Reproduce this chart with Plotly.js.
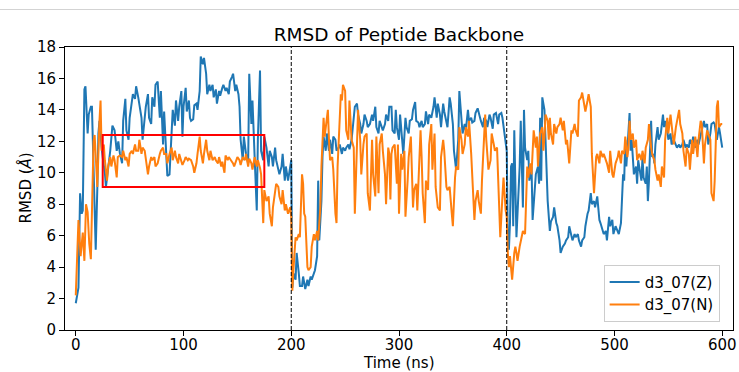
<!DOCTYPE html>
<html>
<head>
<meta charset="utf-8">
<script src="https://cdn.plot.ly/plotly-3.0.1.min.js"></script>
<style>html,body{margin:0;padding:0;background:#fff;}#chart{width:739px;height:372px;}</style>
</head>
<body>
<div id="chart"></div>
<script>
// ---- data ----
const seriesNames = ['d3_07(Z)', 'd3_07(N)'];

const timeZ = [
0,2.5,4,5.5,6.5,8,9,11,12,14, 15,16,17,18.5,20,21,22,23,24,25, 27,28,30,32,34,36,38,39.5,41,43,
44,46,47,49,50,52,53,55,56,58, 59,61,62,64,65,67,68,70,71,73, 74,76,78,79,81,82,84,85,
87,90,92,93,95,96,98,99,100,102, 103,105,106,107,109,110,112,113,115,116, 118,119,121,122,124,125,127,128,130,131,
133,134,136,137,139,140,142,143,145,146, 148,149,151,152,153,155,156,158,160,161, 163,164,166,168,169,171,172,174,175,177,
179,180,182,183,185,186,188,189,191,192, 194,195,197,199,200,
201,202,204,205,207,208,210,211,213,215, 216,218,219,221,222,224,225,226,228,229, 230,232,233,235,236,238,239,241,242,244,
245,247,248,250,251,253,254,256,258,259, 261,262,264,265,267,268,270,271,273,275, 276,278,279,281,282,284,285,287,288,290,
291,293,294,296,297,298,300,301,303,304, 306,307,309,310,312,313,315,316,318,319, 321,322,324,325,327,328,330,332,333,335,
336,338,339,341,342,344,345,347,348,350, 351,353,355,356,358,359,361,362,364,365, 367,368,370,371,373,375,376,378,379,381,
382,384,385,387,388,390,392,393,395,396, 398,399,400,
401,402,403,404,405,406,407,408,409,410, 412,413,414,415,416,417,419,420,421,423, 424,426,427,429,430,431,432,433,435,436,
438,440,441,443,444,446,447,449,450,452, 454,455,457,458,460,461,463,464,466,467, 469,470,472,473,475,476,478,479,481,482,
484,486,487,489,490,492,493,
495,496,498,499,501,503,504,506,507,508, 509,510,511,512,513,514,515,516,517,518, 520,521,522,524,525,526,527,529,530,531,
532,534,535,536,537,538,540,541,543,544, 545,546,547,549,550,552,553,555,557,558, 560,561,563,564,566,567,569,570,572,573,
575,577,578,580,581,583,584,586,587,589, 590,592,593,595,597,598,600
];
const rmsdZ = [
1.7,2.7,8.7,7.4,7.6,15.3,15.5,12.5,13.7,14.2, 14.2,12.0,8.9,5.1,9.0,12.5,13.3,12.0,11.6,11.0, 10.0,9.1,10.1,11.4,13.0,12.7,11.4,12.0,11.2,10.6,
13.3,14.7,12.7,12.1,13.5,14.8,15.0,14.7,15.5,14.8, 14.4,13.5,12.1,13.5,14.2,15.0,13.5,13.1,14.8,14.2, 15.6,15.8,13.5,15.2,11.8,13.9,10.6,9.8,
9.9,14.0,13.0,14.6,13.3,14.2,15.2,12.3,14.2,15.4, 13.9,14.6,13.5,13.3,13.4,14.3,14.4,14.0,15.2,17.4, 16.9,17.3,16.3,15.0,15.6,15.2,15.6,14.8,15.3,14.4,
15.2,14.9,15.4,15.6,15.2,15.4,15.0,15.8,16.1,16.3, 15.2,15.6,15.0,14.2,12.1,10.8,12.3,11.2,10.6,16.3, 13.1,14.6,11.0,7.6,12.1,16.5,11.4,10.8,12.3,11.6,
10.4,11.4,11.0,10.4,11.6,10.8,10.2,9.9,10.4,11.2, 9.5,10.4,9.5,10.4,10.8,
2.7,3.6,3.2,4.9,3.6,2.8,2.8,3.4,2.6,3.2, 2.8,3.4,3.2,3.6,3.8,4.7,9.5,5.7,8.2,11.0, 12.3,11.4,12.5,11.4,12.1,11.2,12.3,12.1,11.4,11.6,
11.8,11.2,11.6,11.4,11.6,11.8,11.5,12.1,13.9,14.2, 14.4,13.7,13.1,12.5,13.1,13.7,13.3,12.9,13.1,13.7, 13.3,14.2,12.9,12.5,13.3,12.9,12.7,13.1,13.7,13.3,
14.2,14.2,12.7,12.5,14.0,12.9,12.1,13.7,12.1,11.2, 13.5,12.9,12.5,13.3,13.4,14.0,14.5,13.3,13.2,12.9, 13.3,12.9,13.1,13.9,13.1,13.7,13.5,14.2,14.8,13.5,
14.4,13.7,12.9,14.4,13.9,13.3,12.9,14.8,14.4,13.1, 11.4,10.2,12.1,15.2,12.9,12.5,13.1,12.7,14.0,13.3, 13.5,13.2,13.3,13.8,14.1,13.5,13.3,12.9,13.5,13.3,
12.9,13.7,13.5,12.8,13.7,13.8,13.1,13.7,13.8,13.5, 12.5,12.1,11.4,
5.7,5.1,6.8,10.4,10.6,6.6,12.7,9.9,5.9,7.4, 10.4,13.3,11.0,7.8,14.0,11.6,10.8,11.4,9.5,10.4, 7.0,8.9,9.9,10.4,9.3,13.5,9.5,14.8,14.0,12.1,
8.2,6.3,6.9,7.2,7.8,6.8,6.6,5.7,4.9,5.3, 5.5,5.7,5.9,6.6,6.1,5.7,6.1,5.9,6.1,5.7, 5.3,5.7,5.9,6.6,7.4,7.6,8.7,8.0,8.2,7.8,
8.5,7.0,6.8,6.3,6.1,6.3,5.7,
7.2,6.6,7.0,6.1,6.6,6.3,6.1,6.8,8.2,9.9, 9.5,12.1,10.4,11.4,12.5,13.8,11.4,12.1,11.0,9.9, 10.4,9.3,10.8,9.9,9.5,11.0,9.7,9.3,10.4,8.2,
9.5,13.3,11.0,11.2,10.6,11.8,12.9,12.1,12.5,13.1, 13.7,12.9,13.3,12.7,12.1,12.5,11.8,12.1,11.8,11.6, 11.8,11.6,11.8,12.1,11.6,11.8,11.6,12.1,11.8,12.3,
11.6,12.1,11.8,12.3,12.7,13.3,12.9,13.1,11.8,12.5, 13.1,13.2,13.1,12.1,12.9,12.5,11.6
];

const timeN = [
0,2.5,4.5,6.5,8,9.5,11,12.5,14,15.5, 16.5,17.5,19,20,22,23,24,26,27,29, 30,32,33,35,36,38,39,41,43,44,
46,47,49,50,52,53,55,56,58,59, 61,62,64,65,67,68,70,71,73,74, 76,78,79,81,82,84,85,
87,89,90,92,93,95,96,98,99,101, 102,104,105,107,109,110,112,113,115,116, 118,119,121,122,124,125,127,129,130,132,
133,135,136,138,139,141,142,144,146,147, 149,150,152,153,155,157,158,160,161,163, 164,166,168,169,171,172,174,175,177,179,
180,182,183,185,186,188,189,191,192,194, 195,197,199,200,
201,202,204,205,207,208,210,211,212,213, 215,216,218,219,221,222,224,225,227,228, 230,231,233,234,235,236,238,239,241,242,
243,245,246,247,248,250,251,253,254,256, 258,259,261,262,264,265,267,268,270,271, 273,275,276,278,279,281,282,284,285,287,
288,290,291,292,
293,294,296,298,299,300,302,303,305,306, 308,309,311,313,314,316,317,319,320,321, 322,324,325,327,328,330,331,333,334,336,
338,339,341,342,344,345,347,349,350,352, 353,355,356,358,359,361,362,364,365,367, 369,370,371,373,374,376,377,379,380,381,
383,385,386,388,389,391,392,394,396,397, 399,400,
401,402,403,404,405,407,408,409,410,412, 413,414,415,417,418,419,420,422,423,424, 425,427,428,429,430,431,433,434,435,436,
438,439,440,441,443,444,446,447,449,450, 452,453,455,456,458,460,461,463,464,466, 467,469,470,472,473,475,476,478,479,481,
483,484,486,487,489,490,492,493,
495,496,498,499,501,503,504,506,507,509, 510,512,513,514,515,517,518,520,521,523, 525,526,528,529,531,532,534,535,537,538,
540,541,543,544,546,547,549,550,552,553, 555,557,558,560,561,563,564,566,567,569, 570,572,573,575,577,578,580,581,583,584,
586,587,589,590,592,593,595,596,597,599,600
];
const rmsdN = [
2.2,7.0,4.7,6.2,4.4,8.0,7.5,5.5,4.5,8.9, 12.0,12.4,9.9,9.1,13.3,14.6,11.4,11.8,10.8,9.5, 10.4,11.0,10.4,11.1,10.8,9.7,11.0,11.1,11.0,11.4,
10.8,11.0,10.4,11.2,11.4,11.2,11.8,11.4,11.4,12.1, 11.2,11.6,11.4,10.8,9.9,10.4,11.0,10.8,11.0,10.4, 10.6,11.2,11.4,11.6,11.2,11.2,10.6,
11.2,11.6,10.8,11.4,11.0,10.6,11.2,10.8,10.5,10.8, 11.0,10.8,10.9,10.8,10.4,10.0,10.6,11.2,12.3,11.4, 10.6,11.2,12.1,11.4,10.8,11.4,10.8,11.0,10.8,10.6,
11.0,10.4,10.7,10.0,11.1,10.8,11.0,10.8,10.6,10.4, 10.8,11.0,10.8,10.5,11.0,10.8,11.2,10.4,10.9,10.6, 10.2,11.0,10.4,10.8,10.3,9.9,6.8,8.9,8.2,8.5,
7.4,6.6,7.8,8.7,9.3,9.1,8.5,8.0,8.9,7.6, 8.0,7.4,7.8,7.2,
2.5,3.8,5.9,5.7,6.1,5.9,9.9,9.3,7.4,7.2, 4.0,3.8,4.0,5.3,6.1,5.7,6.3,5.7,7.8,10.4, 13.5,12.3,13.7,14.0,12.1,10.8,11.0,10.2,7.4,6.8,
10.4,13.1,15.0,14.6,15.6,15.2,12.7,12.1,14.6,12.1, 11.6,7.4,11.0,14.0,12.1,9.9,11.8,12.3,12.5,8.7, 7.6,12.1,9.9,8.5,12.3,8.7,11.8,12.5,11.4,9.9,
8.0,11.6,11.2,8.3,
11.2,11.6,11.8,9.3,11.8,7.4,11.2,10.2,11.4,7.2, 9.5,11.0,12.3,7.8,8.9,9.3,7.6,11.8,12.7,11.0, 8.7,6.8,9.5,8.9,11.8,13.1,10.2,12.5,9.1,7.8,
7.6,11.0,12.1,11.4,9.1,8.9,9.1,7.4,6.6,9.7, 10.4,10.2,12.9,12.1,11.2,11.8,12.9,12.3,13.3,11.2, 8.9,7.0,8.2,8.9,8.2,7.4,9.5,12.7,13.7,12.1,
10.2,10.8,12.5,11.8,11.4,11.6,9.9,5.9,8.5,9.7, 7.6,7.2,
4.9,4.0,4.7,4.0,3.2,4.9,5.3,4.9,4.4,5.3, 5.7,5.9,6.3,6.1,8.7,10.4,9.7,10.6,9.9,11.8, 12.7,11.6,12.3,10.4,11.6,12.5,12.9,11.4,12.3,13.7,
13.3,12.1,13.5,12.5,11.8,13.1,12.5,12.9,13.1,13.5, 12.7,13.3,11.8,12.1,10.6,12.7,12.5,13.1,12.7,12.3, 14.6,14.8,15.1,14.4,13.9,14.6,15.0,14.2,11.2,8.7,
11.0,11.2,10.6,11.4,11.0,11.2,10.8,10.6,
10.0,11.4,9.9,9.7,10.6,11.0,11.4,10.6,11.4,11.2, 12.3,11.0,11.6,13.3,12.1,12.5,11.6,12.1,10.8,11.2, 10.8,11.4,10.6,11.6,12.1,13.1,11.6,11.2,10.8,10.2,
9.5,9.9,9.1,10.4,9.7,12.1,13.5,12.5,13.7,12.9, 11.8,12.9,13.3,14.0,13.1,12.5,11.4,10.4,11.6,11.2, 10.2,12.1,11.2,12.3,11.0,12.1,13.3,13.1,10.6,11.8,
12.7,12.5,12.1,8.7,8.2,9.5,14.2,14.6,12.9,13.1,13.1
];

const xTicks = [0, 100, 200, 300, 400, 500, 600];
const yTicks = [0, 2, 4, 6, 8, 10, 12, 14, 16, 18];
const phaseBoundaries = [200, 400];        // dashed vertical lines (ns)
const highlightTime = [25, 175];           // red box, time range (ns)
const highlightRmsd = [9.1, 12.4];         // red box, RMSD range (Å)
const xLabel = 'Time (ns)';
const yLabel = 'RMSD (<i>Å</i>)';

// ---- chart ----
const FONT = 'DejaVu Sans, Liberation Sans, sans-serif';
const M = {l: 65, r: 6, t: 47, b: 42};
const PW = 739 - M.l - M.r, PH = 372 - M.t - M.b;

const traces = [
  {x: timeZ, y: rmsdZ, name: seriesNames[0], type: 'scatter', mode: 'lines',
   line: {color: '#1f77b4', width: 2}},
  {x: timeN, y: rmsdN, name: seriesNames[1], type: 'scatter', mode: 'lines',
   line: {color: '#ff7f0e', width: 2}}
];

const shapes = phaseBoundaries.map(t => ({
  type: 'line', xref: 'x', yref: 'paper', x0: t, x1: t, y0: 0, y1: 1,
  line: {color: 'black', width: 1, dash: '4px,2px'}, layer: 'above'
}));
shapes.push({
  type: 'rect', xref: 'x', yref: 'y',
  x0: highlightTime[0], x1: highlightTime[1], y0: highlightRmsd[0], y1: highlightRmsd[1],
  line: {color: '#ff0000', width: 2}, fillcolor: 'rgba(0,0,0,0)', layer: 'above'
});
// thin grey rule at the very top of the figure
shapes.push({
  type: 'line', xref: 'paper', yref: 'paper',
  x0: -M.l/PW, x1: (739 - M.l)/PW, y0: 1 + (M.t - 9.5)/PH, y1: 1 + (M.t - 9.5)/PH,
  line: {color: '#d3d3d3', width: 1}
});

const axisCommon = {
  ticks: 'outside', ticklen: 5, tickwidth: 1, tickcolor: 'black',
  showline: true, mirror: true, linecolor: 'black', linewidth: 1,
  showgrid: false, zeroline: false,
  tickfont: {family: FONT, size: 15, color: 'black'}
};

const layout = {
  width: 739, height: 372,
  margin: M,
  paper_bgcolor: 'white', plot_bgcolor: 'white',
  font: {family: FONT, size: 15, color: 'black'},
  title: {text: 'RMSD of Peptide Backbone', font: {family: FONT, size: 18.5, color: 'black'},
          x: 0.5, xref: 'paper', y: 1 - 35/372, yref: 'container', yanchor: 'middle'},
  xaxis: Object.assign({}, axisCommon, {
    range: [-10, 610], tickmode: 'array', tickvals: xTicks, ticklabelstandoff: -4
  }),
  yaxis: Object.assign({}, axisCommon, {
    range: [0, 18], tickmode: 'array', tickvals: yTicks
  }),
  annotations: [
    {text: xLabel, xref: 'paper', yref: 'paper', x: 0.5, y: (330 - 363)/PH,
     xanchor: 'center', yanchor: 'middle', showarrow: false,
     font: {family: FONT, size: 15, color: 'black'}},
    {text: yLabel, xref: 'paper', yref: 'paper', x: (25 - M.l)/PW, y: 0.5,
     xanchor: 'center', yanchor: 'middle', textangle: -90, showarrow: false,
     font: {family: FONT, size: 15, color: 'black'}}
  ],
  showlegend: true,
  legend: {x: 0.98, xanchor: 'right', y: 0.029, yanchor: 'bottom',
           bgcolor: 'rgba(255,255,255,0.85)', bordercolor: '#cccccc', borderwidth: 1,
           font: {family: FONT, size: 15, color: 'black'}, tracegroupgap: 0},
  shapes: shapes
};

Plotly.newPlot('chart', traces, layout, {displayModeBar: false, staticPlot: true});
</script>
</body>
</html>
